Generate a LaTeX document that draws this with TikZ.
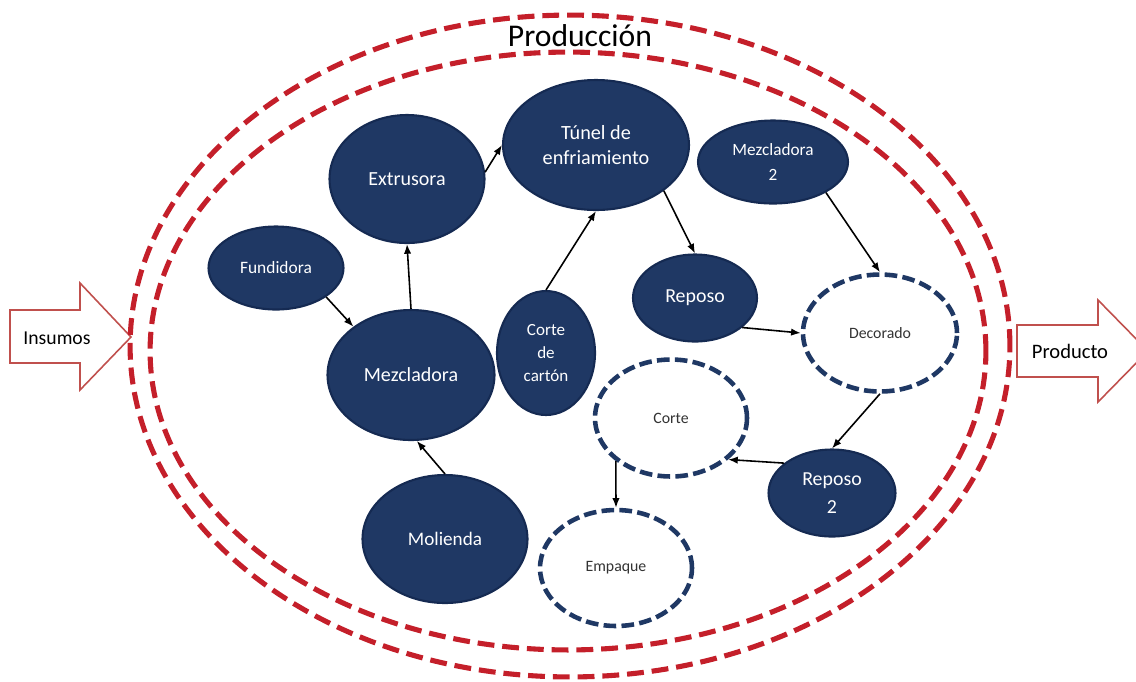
\documentclass[tikz,border=0pt]{standalone}
\usepackage{fontspec}
\setmainfont{Carlito}
\usetikzlibrary{shapes.geometric}
\usetikzlibrary{arrows.meta}

\definecolor{navy}{HTML}{1F3864}
\definecolor{navyline}{HTML}{152A52}
\definecolor{prodred}{HTML}{C41F2A}
\definecolor{arrowred}{HTML}{C0504D}

\begin{document}
\begin{tikzpicture}[x=0.02cm,y=-0.02cm,
    proc/.style={ellipse,draw=navyline,line width=1.2pt,fill=navy,text=white,align=center,inner sep=0pt},
    pend/.style={ellipse,draw=navy,line width=2.6pt,dash pattern=on 7.2pt off 3pt,fill=white,text=black!80,align=center,inner sep=0pt},
    prodframe/.style={draw=prodred,line width=2.9pt,dash pattern=on 9.6pt off 4.5pt},
    bigarrow/.style={draw=arrowred,line width=0.9pt,fill=white},
    flow/.style={-{Latex[length=5.5pt,width=4.2pt]},line width=0.9pt,black}]
      \clip (0,0) rectangle (1136,681);
      % entrada y salida
      \draw [bigarrow] (10,310) -- (80,310) -- (80,283) -- (131,337) -- (80,390) -- (80,363) -- (10,363) -- cycle;
      \draw [bigarrow] (1017,325) -- (1098,325) -- (1098,300) -- (1148,351) -- (1098,402) -- (1098,377) -- (1017,377) -- cycle;
      \node (ins) at (57,338) {\fontsize{11.2}{13}\selectfont Insumos};
      \node (prto) at (1070,351) {\fontsize{11.7}{13}\selectfont Producto};
      \draw [prodframe] (570,346) ellipse [x radius=8.8cm, y radius=6.62cm];
      \draw [prodframe] (568,351) ellipse [x radius=8.36cm, y radius=5.98cm];
      \node (prod) at (580,36) {\fontsize{18}{20}\selectfont Producción};
      \node [proc,minimum width=3.72cm,minimum height=2.6cm,font=\fontsize{11.5}{14.5}\selectfont] (tunel) at (596,145) {Túnel de\\enfriamiento};
      \node [proc,minimum width=3.1cm,minimum height=2.56cm,font=\fontsize{11.4}{14}\selectfont] (extr) at (407,179) {Extrusora};
      \node [proc,minimum width=3.0cm,minimum height=1.66cm,font=\fontsize{9.8}{14}\selectfont] (mezc2) at (773,162) {Mezcladora\\2};
      \node [proc,minimum width=2.7cm,minimum height=1.66cm,font=\fontsize{9.9}{12}\selectfont] (fund) at (276,268) {Fundidora};
      \node [proc,minimum width=3.34cm,minimum height=2.6cm,font=\fontsize{11.4}{14}\selectfont] (mezc) at (411,375) {Mezcladora};
      \node [proc,minimum width=1.96cm,minimum height=2.48cm,font=\fontsize{9.7}{13.3}\selectfont] (carton) at (546,353) {Corte\\de\\cartón};
      \node [proc,minimum width=2.48cm,minimum height=1.74cm,font=\fontsize{11.3}{14}\selectfont] (repo) at (695,298) {Reposo};
      \node [pend,minimum width=3.08cm,minimum height=2.34cm,font=\fontsize{9}{11}\selectfont] (deco) at (880,333) {Decorado};
      \node [pend,minimum width=3.04cm,minimum height=2.34cm,font=\fontsize{9}{11}\selectfont] (corte) at (671,418) {Corte};
      \node [proc,minimum width=2.54cm,minimum height=1.74cm,font=\fontsize{11.3}{15.5}\selectfont] (repo2) at (832,493) {Reposo\\2};
      \node [proc,minimum width=3.3cm,minimum height=2.56cm,font=\fontsize{10.9}{13}\selectfont] (mol) at (445,539) {Molienda};
      \node [pend,minimum width=3.04cm,minimum height=2.32cm,font=\fontsize{9}{11}\selectfont] (emp) at (616,568) {Empaque};
      \draw [flow] (fund.-30) -- (mezc.140);
      \draw [flow] (mezc.north) -- (extr.south);
      \draw [flow] (extr.5) -- (tunel.180);
      \draw [flow] (carton.north) -- (tunel.south);
      \draw [flow] (tunel.-34) -- (repo.north);
      \draw [flow] (mezc2.-30) -- (deco.north);
      \draw [flow] (repo.-32) -- (deco.west);
      \draw [flow] (deco.south) -- (repo2.north);
      \draw [flow] (repo2.148) -- (corte.-36);
      \draw [flow] (corte.-142) -- (emp.north);
      \draw [flow] (mol.north) -- (mezc.-85);
    \end{tikzpicture}
\end{document}
